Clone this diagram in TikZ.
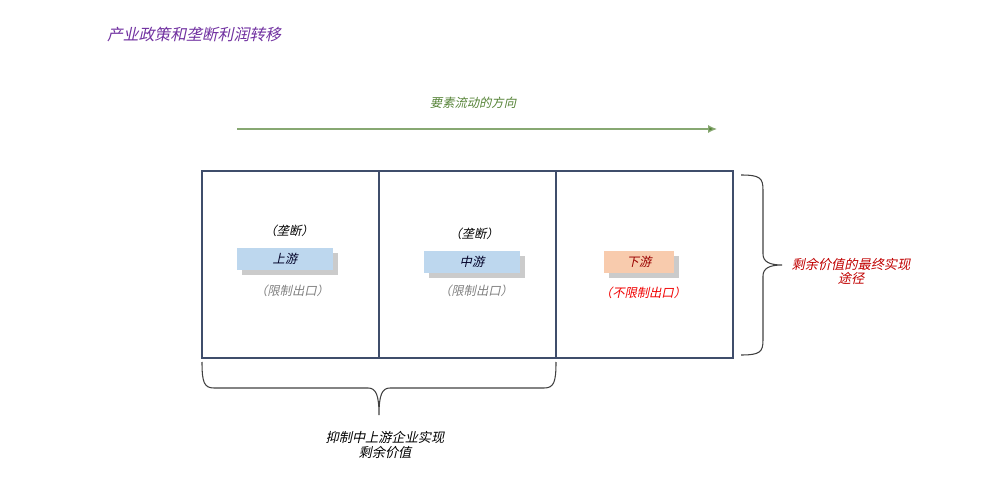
\documentclass[tikz,border=0pt]{standalone}
\usepackage{fontspec}
\newfontfamily\cjk[FakeSlant=0.22]{Noto Sans CJK SC}
\usetikzlibrary{shadows,arrows.meta}
\definecolor{titlepurple}{HTML}{7030A0}
\definecolor{flowgreen}{HTML}{548235}
\definecolor{cellborder}{HTML}{3F4D6B}
\definecolor{upblue}{HTML}{BDD7EE}
\definecolor{downorange}{HTML}{F8CBAD}
\definecolor{exportred}{HTML}{F00000}
\definecolor{surplusred}{HTML}{C00000}
\begin{document}
\begin{tikzpicture}[x=0.02cm,y=-0.02cm]
\tikzstyle{every node}+=[inner sep=0pt]
\tikzset{
  cell/.style={draw=cellborder, line width=0.8pt, minimum width=3.54cm, minimum height=3.74cm},
  tag/.style={minimum height=0.44cm, drop shadow={shadow xshift=0.1cm, shadow yshift=-0.11cm, fill=black!45, opacity=0.45}},
  cn/.style={font=\cjk\fontsize{7}{9}\selectfont},
  brace/.style={draw=black!75, line width=0.6pt}
}
\useasboundingbox (0,0) rectangle (1000,496);
% title and flow direction
\node[cn, text=titlepurple, font=\cjk\fontsize{9}{10}\selectfont] (title) at (194,35) {产业政策和垄断利润转移};
\node[cn, text=flowgreen] (flowtext) at (473,103) {要素流动的方向};
\coordinate (flowA) at (237,129);
\coordinate (flowB) at (717,129);
\draw [flowgreen!70, line width=0.7pt, -{Latex[length=5pt,width=4.5pt,fill=flowgreen]}] (flowA) -- (flowB);
% the three stages
\node[cell] (upcell) at (290.5,264.5) {};
\node[cell] (midcell) at (467.5,264.5) {};
\node[cell] (downcell) at (644.5,264.5) {};
\node[cn] (upmono) at (289,231) {（垄断）};
\node[cn, tag, fill=upblue, minimum width=1.92cm, text=black!85!blue] (up) at (285,259) {上游};
\node[cn, text=black!50] (upexp) at (292,291) {（限制出口）};
\node[cn] (midmono) at (474,234) {（垄断）};
\node[cn, tag, fill=upblue, minimum width=1.92cm, text=black!85!blue] (mid) at (472,262) {中游};
\node[cn, text=black!50] (midexp) at (476,291) {（限制出口）};
\node[cn, tag, fill=downorange, minimum width=1.4cm, text=surplusred!80!black] (down) at (639,262) {下游};
\node[cn, text=exportred] (downexp) at (643,293) {（不限制出口）};
% right brace
\coordinate (rtop) at (741,175);
\coordinate (rbot) at (741,355);
\coordinate (rtip) at (782,265);
\draw [brace] (rtop) .. controls (760,175) and (763,178) .. (763,190)
  -- (763,254) .. controls (763,262) and (770,265) .. (rtip)
  .. controls (770,265) and (763,268) .. (763,276)
  -- (763,340) .. controls (763,352) and (760,355) .. (rbot);
\node[cn, text=surplusred, align=center, font=\cjk\fontsize{7.5}{8}\selectfont] (final) at (851,271) {剩余价值的最终实现\\途径};
% bottom brace
\coordinate (bleft) at (202,362);
\coordinate (bright) at (556,362);
\coordinate (btip) at (379,415);
\draw [brace] (bleft) .. controls (202,382) and (204,388) .. (214,388)
  -- (368,388) .. controls (376,388) and (379,395) .. (btip)
  .. controls (379,395) and (382,388) .. (390,388)
  -- (544,388) .. controls (554,388) and (556,382) .. (bright);
\node[cn, align=center, font=\cjk\fontsize{7.5}{8}\selectfont] (restrain) at (385,445) {抑制中上游企业实现\\剩余价值};
\end{tikzpicture}
\end{document}
